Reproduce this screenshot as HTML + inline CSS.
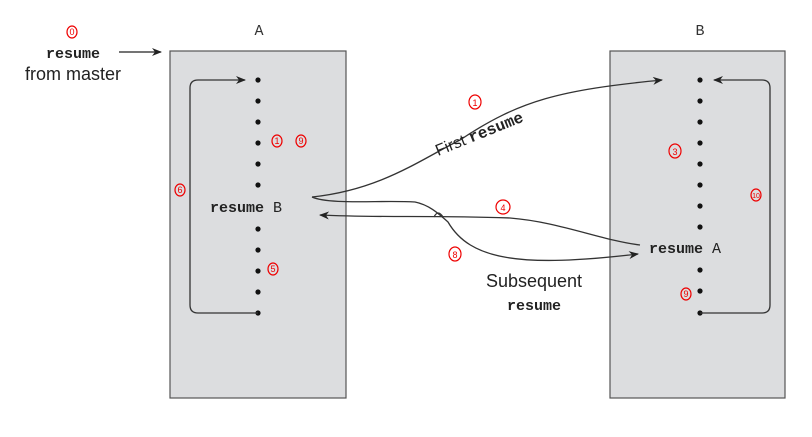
<!DOCTYPE html>
<html><head><style>body{margin:0;background:#fff}</style></head><body>
<svg width="812" height="432" xmlns="http://www.w3.org/2000/svg" font-family="Liberation Sans, sans-serif">
<defs><marker id="ar" markerWidth="10" markerHeight="8" refX="9" refY="4" orient="auto" markerUnits="userSpaceOnUse"><path d="M0,0 L10,4 L0,8 L3,4z" fill="#222"/></marker></defs>
<rect x="170" y="51" width="176" height="347" fill="#dcdddf" stroke="#555" stroke-width="1.2"/>
<rect x="610" y="51" width="175" height="347" fill="#dcdddf" stroke="#555" stroke-width="1.2"/>
<text x="259" y="35" font-family="Liberation Mono, monospace" font-size="15" text-anchor="middle" fill="#333">A</text>
<text x="700" y="35" font-family="Liberation Mono, monospace" font-size="15" text-anchor="middle" fill="#333">B</text>
<text x="73" y="58" font-family="Liberation Mono, monospace" font-weight="bold" font-size="15" text-anchor="middle" fill="#222">resume</text>
<text x="73" y="80" font-size="18" text-anchor="middle" fill="#222">from master</text>
<line x1="119" y1="52" x2="161" y2="52" stroke="#222" stroke-width="1.3" marker-end="url(#ar)"/>
<g fill="#111">
<circle cx="258" cy="80" r="2.6"/><circle cx="258" cy="101" r="2.6"/><circle cx="258" cy="122" r="2.6"/><circle cx="258" cy="143" r="2.6"/><circle cx="258" cy="164" r="2.6"/><circle cx="258" cy="185" r="2.6"/>
<circle cx="258" cy="229" r="2.6"/><circle cx="258" cy="250" r="2.6"/><circle cx="258" cy="271" r="2.6"/><circle cx="258" cy="292" r="2.6"/><circle cx="258" cy="313" r="2.6"/>
<circle cx="700" cy="80" r="2.6"/><circle cx="700" cy="101" r="2.6"/><circle cx="700" cy="122" r="2.6"/><circle cx="700" cy="143" r="2.6"/><circle cx="700" cy="164" r="2.6"/><circle cx="700" cy="185" r="2.6"/><circle cx="700" cy="206" r="2.6"/><circle cx="700" cy="227" r="2.6"/>
<circle cx="700" cy="270" r="2.6"/><circle cx="700" cy="291" r="2.6"/><circle cx="700" cy="313" r="2.6"/>
</g>
<text x="210" y="212" font-family="Liberation Mono, monospace" font-size="15" fill="#222"><tspan font-weight="bold">resume</tspan> B</text>
<text x="649" y="253" font-family="Liberation Mono, monospace" font-size="15" fill="#222"><tspan font-weight="bold">resume</tspan> A</text>
<path d="M258,313 H198 Q190,313 190,305 V88 Q190,80 198,80 H245" fill="none" stroke="#333" stroke-width="1.3" marker-end="url(#ar)"/>
<path d="M700,313 H762 Q770,313 770,305 V88 Q770,80 762,80 H714" fill="none" stroke="#333" stroke-width="1.3" marker-end="url(#ar)"/>
<path d="M312,197 C380,190 420,160 460,140 C520,100 560,90 662,80" fill="none" stroke="#333" stroke-width="1.3" marker-end="url(#ar)"/>
<path d="M312,197 C330,205 380,200 415,202 C430,205 440,215 448,222 C470,260 520,268 638,254" fill="none" stroke="#333" stroke-width="1.3" marker-end="url(#ar)"/>
<path d="M640,245 C600,240 560,222 510,218 C430,215 380,218 320,215" fill="none" stroke="#333" stroke-width="1.3" marker-end="url(#ar)"/>
<path d="M434,217 q4,-8 9,0" fill="none" stroke="#333" stroke-width="1.2"/>
<text x="438" y="156" font-size="16" fill="#222" transform="rotate(-22 438 156)">First <tspan font-family="Liberation Mono, monospace" font-weight="bold">resume</tspan></text>
<text x="534" y="287" font-size="18" text-anchor="middle" fill="#222">Subsequent</text>
<text x="534" y="310" font-family="Liberation Mono, monospace" font-weight="bold" font-size="15" text-anchor="middle" fill="#222">resume</text>
<g fill="none" stroke="#e00" stroke-width="1.2">
<ellipse cx="72" cy="32" rx="5" ry="6"/><ellipse cx="277" cy="141" rx="5" ry="6"/><ellipse cx="301" cy="141" rx="5" ry="6"/>
<ellipse cx="180" cy="190" rx="5" ry="6"/><ellipse cx="273" cy="269" rx="5" ry="6"/><ellipse cx="475" cy="102" rx="6" ry="7"/>
<ellipse cx="675" cy="151" rx="6" ry="7"/><ellipse cx="756" cy="195" rx="5" ry="6"/><ellipse cx="503" cy="207" rx="7" ry="7"/>
<ellipse cx="455" cy="254" rx="6" ry="7"/><ellipse cx="686" cy="294" rx="5" ry="6"/>
</g>
<g fill="#e00" font-size="9" text-anchor="middle">
<text x="72" y="35">0</text><text x="277" y="144">1</text><text x="301" y="144">9</text><text x="180" y="193">6</text>
<text x="273" y="272">5</text><text x="475" y="106">1</text><text x="675" y="155">3</text><text x="756" y="198" font-size="7">10</text>
<text x="503" y="211">4</text><text x="455" y="258">8</text><text x="686" y="297">9</text>
</g>
</svg>
</body></html>
